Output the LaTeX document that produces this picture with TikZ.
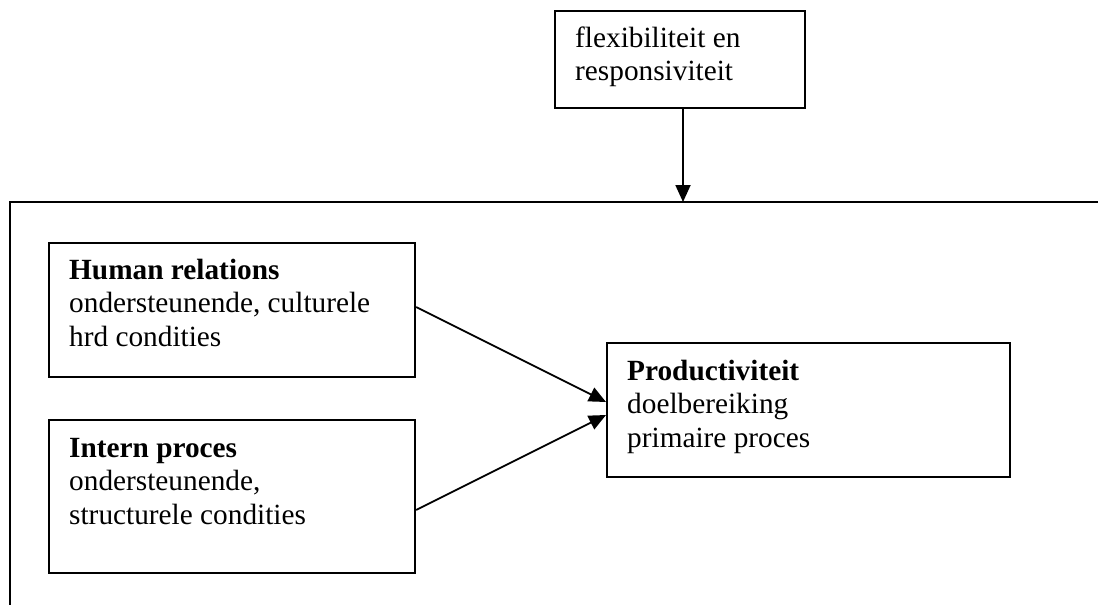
\documentclass[tikz,border=0pt]{standalone}
\usepackage{fontspec}
\setmainfont{Liberation Serif}
\usetikzlibrary{arrows.meta}

\newcommand{\boxlines}[1]{\begin{tabular}[t]{@{}l@{}}#1\end{tabular}}

\tikzset{
  box/.style={draw, line width=2.2pt, inner sep=0pt, anchor=north west},
  txt/.style={anchor=base west, inner sep=0pt,
    font=\fontsize{29.3}{33.5}\selectfont},
  arr/.style={line width=1.8pt, -{Triangle[length=17pt,width=15pt]}}
}

\begin{document}
\begin{tikzpicture}[x=1pt,y=-1pt]
\useasboundingbox (0,0) rectangle (1098,605);
% outer frame (cut off at right and bottom)
\draw[line width=2.2pt] (10,612) -- (10,202) -- (1106,202);
\coordinate (fin) at (683,202);

\node[box, minimum width=250, minimum height=97](flex) at (554,10){};
\node[txt](flext) at (575,47){\boxlines{flexibiliteit en\\responsiviteit}};

\node[box, minimum width=366, minimum height=134](hr) at (48,242){};
\node[txt](hrt) at (69,279){\boxlines{\textbf{Human relations}\\ondersteunende, culturele\\hrd condities}};

\node[box, minimum width=366, minimum height=153](ip) at (48,419){};
\node[txt](ipt) at (69,457){\boxlines{\textbf{Intern proces}\\ondersteunende,\\structurele condities}};

\node[box, minimum width=403, minimum height=134](prod) at (606,342){};
\node[txt](prodt) at (627,380){\boxlines{\textbf{Productiviteit}\\doelbereiking\\primaire proces}};

\draw[arr] (flex.south -| fin) -- (fin);
\draw[arr] (hr.east |- 0,307) -- (prod.west |- 0,402);
\draw[arr] (ip.east |- 0,510) -- (prod.west |- 0,415);
\end{tikzpicture}
\end{document}
